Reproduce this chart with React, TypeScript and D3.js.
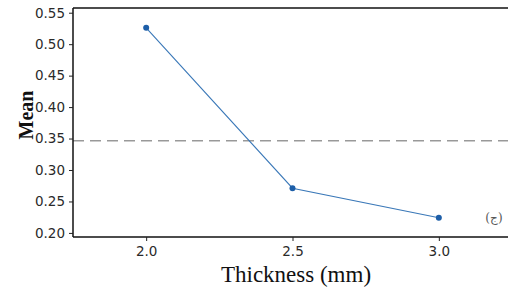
import * as React from "react";
import * as d3 from "d3";

const thickness = [2.0, 2.5, 3.0];
const meanValues = [0.526, 0.271, 0.224];
const overallMean = 0.3465;
const yTicks = [0.2, 0.25, 0.3, 0.35, 0.4, 0.45, 0.5, 0.55];
const xTicks = [2.0, 2.5, 3.0];

const W = 508;
const H = 289;

const App: React.FC = () => {
    const svgRef = React.useRef<SVGSVGElement | null>(null);

    React.useEffect(() => {
        if (!svgRef.current) return;
        const svg = d3.select(svgRef.current);
        svg.selectAll("*").remove();

        const left = 73, top = 8, bottom = 237;
        const x = d3.scaleLinear().domain([1.75, 3.25]).range([left, 512]);
        const y = d3.scaleLinear().domain([0.1935, 0.5575]).range([bottom, top]);

        // frame (right side is cropped in the source)
        svg.append("line").attr("x1", left).attr("x2", W).attr("y1", top).attr("y2", top)
            .attr("stroke", "#111").attr("stroke-width", 1.5);

        // reference mean line
        svg.append("line")
            .attr("x1", left).attr("x2", W)
            .attr("y1", y(overallMean)).attr("y2", y(overallMean))
            .attr("stroke", "#999").attr("stroke-width", 1.3)
            .attr("stroke-dasharray", "11,6");

        const yAxis = svg.append("g")
            .attr("transform", `translate(${left},0)`)
            .call(d3.axisLeft(y).tickValues(yTicks).tickFormat(d3.format(".2f")).tickSize(4).tickPadding(4));
        const xAxis = svg.append("g")
            .attr("transform", `translate(0,${bottom})`)
            .call(d3.axisBottom(x).tickValues(xTicks).tickFormat(d3.format(".1f")).tickSize(4).tickPadding(5));

        [yAxis, xAxis].forEach(g => {
            g.select(".domain").attr("stroke", "#111").attr("stroke-width", 1.5);
            g.selectAll(".tick line").attr("stroke", "#222");
            g.selectAll(".tick text")
                .attr("font-family", "DejaVu Sans, sans-serif")
                .attr("font-size", 13.5)
                .attr("fill", "#2a2a2a");
        });
        xAxis.select(".domain").attr("d", `M${left},0H${W}`);
        yAxis.select(".domain").attr("d", `M0,${bottom}V${top}`);

        const pts = thickness.map((t, i) => [x(t), y(meanValues[i])] as [number, number]);
        svg.append("path")
            .attr("d", d3.line()(pts))
            .attr("fill", "none")
            .attr("stroke", "#3a78b8")
            .attr("stroke-width", 1.1);

        svg.selectAll(".pt")
            .data(pts)
            .enter().append("circle")
            .attr("class", "pt")
            .attr("cx", d => d[0])
            .attr("cy", d => d[1])
            .attr("r", 3)
            .attr("fill", "#1d5ea8");

        svg.append("text")
            .attr("transform", `translate(33,115) rotate(-90)`)
            .attr("text-anchor", "middle")
            .attr("font-family", "Liberation Serif, serif")
            .attr("font-weight", "bold")
            .attr("font-size", 20)
            .attr("fill", "#111")
            .text("Mean");

        svg.append("text")
            .attr("x", 296).attr("y", 282)
            .attr("text-anchor", "middle")
            .attr("font-family", "Liberation Serif, serif")
            .attr("font-size", 23)
            .attr("fill", "#111")
            .text("Thickness (mm)");

        svg.append("text")
            .attr("x", 494).attr("y", 222)
            .attr("text-anchor", "middle")
            .attr("font-family", "DejaVu Serif, serif")
            .attr("font-size", 12)
            .attr("fill", "#555")
            .text("(ج)");
    }, []);

    return (
        <div style={{ position: "absolute", left: 0, top: 0, background: "#fff" }}>
            <svg ref={svgRef} width={W} height={H} style={{ display: "block" }} />
        </div>
    );
};

export default App;
